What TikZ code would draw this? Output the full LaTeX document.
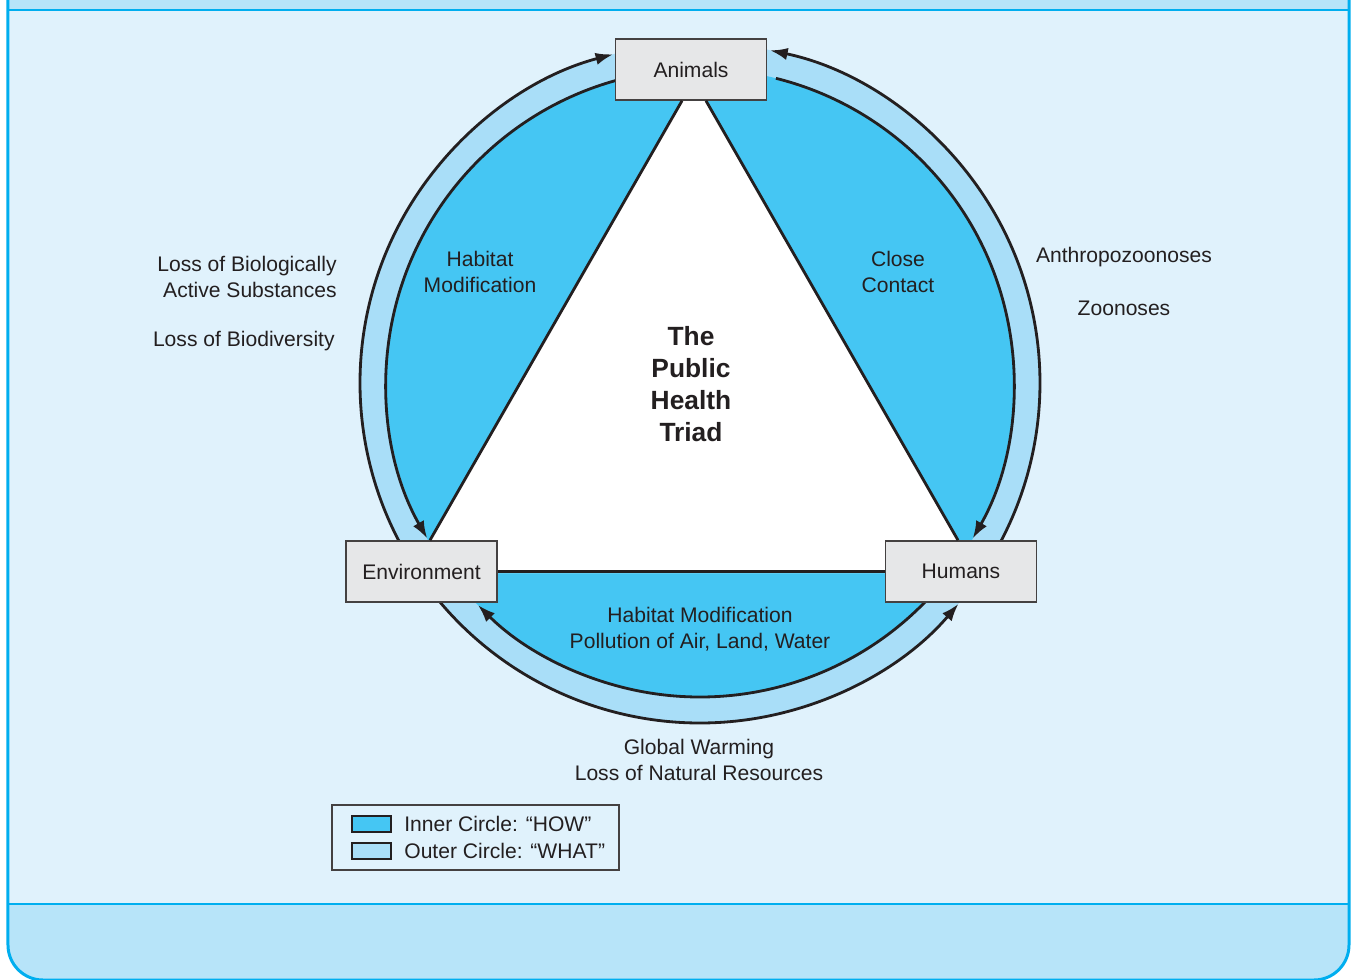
\documentclass[tikz,border=0pt]{standalone}
\usepackage{fontspec}
\setmainfont{Liberation Sans}
\usepackage{xcolor}
\usetikzlibrary{arrows.meta}
\definecolor{panelbg}{HTML}{E0F2FC}
\definecolor{bandbg}{HTML}{B7E4F9}
\definecolor{framecol}{HTML}{00AEEF}
\definecolor{howcol}{HTML}{45C6F3}
\definecolor{whatcol}{HTML}{A9DEF8}
\definecolor{boxgray}{HTML}{E6E7E8}
\definecolor{inkcol}{HTML}{231F20}

\begin{document}
\begin{tikzpicture}[x=0.02cm, y=0.02cm, every node/.style={text=inkcol, font=\fontsize{12}{14.8}\selectfont},%
        hostbox/.style={draw=inkcol!85, line width=0.9pt, fill=boxgray, minimum width=3.02cm, minimum height=1.22cm, inner sep=0pt},
        ring/.style={draw=inkcol, line width=1.6pt, -{Latex[length=10pt,width=7pt]}},
        edge/.style={draw=inkcol, line width=1.6pt},
        txt/.style={align=center, inner sep=0pt},
        frameline/.style={draw=framecol, line width=1.7pt}]
        \useasboundingbox (-700,383) rectangle (652,-597);
        \fill[white] (-700,383) rectangle (652,-597);
        % panel and bands
        \fill[panelbg] (-692,395) -- (-692,-562) arc[start angle=180, end angle=270, radius=35] -- (614,-597) arc[start angle=270, end angle=360, radius=35] -- (649,395) -- cycle;
        \fill[bandbg] (-692,395) rectangle (649,373);
        \fill[bandbg] (-692,-521) -- (-692,-562) arc[start angle=180, end angle=270, radius=35] -- (614,-597) arc[start angle=270, end angle=360, radius=35] -- (649,-521) -- cycle;
        \draw[frameline] (-692,395) -- (-692,-562) arc[start angle=180, end angle=270, radius=35] -- (614,-597) arc[start angle=270, end angle=360, radius=35] -- (649,395);
        \draw[frameline] (-692,373) -- (649,373);
        \draw[frameline] (-692,-521) -- (649,-521);
        % the two circles
        \fill[whatcol] (0,0) circle[radius=340];
        \fill[howcol] (0,0) circle[radius=314];
        \fill[white] (-18,283) -- (6,283) -- (258,-158) -- (258,-190) -- (-270,-190) -- (-270,-158) -- cycle;
        % outer circle: what
        \draw[ring] (210:340) arc[start angle=210, end angle=104.8, radius=340];
        \draw[ring] (-30:340) arc[start angle=-30, end angle=78.1, radius=340];
        \draw[ring] (218:340) arc[start angle=218, end angle=319.5, radius=340];
        % inner circle: how
        \draw[ring] (104:314) arc[start angle=104, end angle=209.7, radius=314];
        \draw[ring] (76:314) arc[start angle=76, end angle=-29.7, radius=314];
        \draw[ring] (320:314) arc[start angle=320, end angle=225, radius=314];
        \node[hostbox] (animals) at (-9,313.5) {Animals};
        \node[hostbox] (environment) at (-278.5,-188.5) {Environment};
        \node[hostbox] (humans) at (261,-188.5) {Humans};
        \draw[edge] ([xshift=-0.18cm]animals.south) -- ([xshift=0.17cm]environment.north);
        \draw[edge] ([xshift=0.3cm]animals.south) -- ([xshift=-0.06cm]humans.north);
        \draw[edge] (environment.east) -- (humans.west);
        \node[txt] (howleft) at (-220,111) {Habitat\\Modification};
        \node[txt] (howright) at (198,111) {Close\\Contact};
        \node[txt] (howbottom) at (0,-246) {Habitat Modification\\Pollution of Air, Land, Water};
        \node[txt, font=\fontsize{15}{18.2}\selectfont\bfseries] (title) at (-9,-1) {The\\Public\\Health\\Triad};
        \node[txt, align=right, anchor=east] (whatleft) at (-363,106) {Loss of Biologically\\Active Substances};
        \node[txt, anchor=east] (biodiv) at (-365,42) {Loss of Biodiversity};
        \node[txt] (anthropo) at (424,126) {Anthropozoonoses};
        \node[txt] (zoonoses) at (424,75) {Zoonoses};
        \node[txt] (whatbottom) at (-1,-377) {Global Warming\\Loss of Natural Resources};
        % legend
        \node[draw=inkcol!85, line width=0.9pt, minimum width=5.74cm, minimum height=1.3cm, inner sep=0pt] (legend) at (-224.5,-454.5) {};
        \filldraw[fill=howcol, draw=inkcol, line width=0.7pt] (-348,-433) rectangle (-309,-449);
        \filldraw[fill=whatcol, draw=inkcol, line width=0.7pt] (-348,-460) rectangle (-309,-476);
        \node[txt, anchor=west] (howkey) at (-296,-441) {Inner Circle: “HOW”};
        \node[txt, anchor=west] (whatkey) at (-296,-468) {Outer Circle: “WHAT”};
    \end{tikzpicture}
\end{document}
